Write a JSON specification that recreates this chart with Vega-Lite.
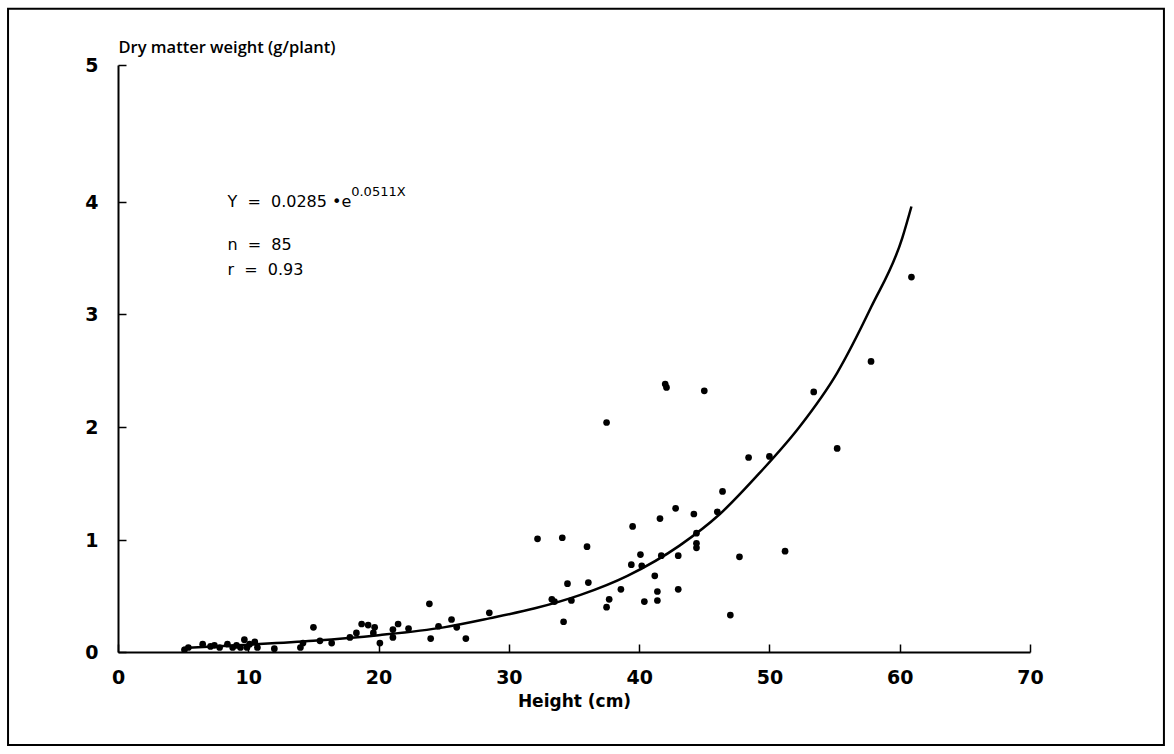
{
  "$schema": "https://vega.github.io/schema/vega-lite/v6.json",
  "width": 912,
  "height": 587,
  "autosize": {"type": "none"},
  "padding": {"left": 118, "top": 65, "right": 144, "bottom": 102},
  "background": "white",
  "config": {
    "view": {"stroke": null},
    "font": "DejaVu Sans"
  },
  "datasets": {
    "pts": [
      {"x": 5.1, "y": 0.02}, {"x": 5.4, "y": 0.04}, {"x": 6.5, "y": 0.07}, {"x": 7.1, "y": 0.05},
      {"x": 7.4, "y": 0.06}, {"x": 7.8, "y": 0.04}, {"x": 8.4, "y": 0.07}, {"x": 8.8, "y": 0.04},
      {"x": 9.1, "y": 0.06}, {"x": 9.4, "y": 0.04}, {"x": 9.7, "y": 0.11}, {"x": 9.9, "y": 0.04},
      {"x": 10.1, "y": 0.07}, {"x": 10.5, "y": 0.09}, {"x": 10.7, "y": 0.04}, {"x": 12.0, "y": 0.03},
      {"x": 14.0, "y": 0.04}, {"x": 14.2, "y": 0.08}, {"x": 15.0, "y": 0.22}, {"x": 15.5, "y": 0.10},
      {"x": 16.4, "y": 0.08}, {"x": 17.8, "y": 0.13}, {"x": 18.3, "y": 0.17}, {"x": 18.7, "y": 0.25},
      {"x": 19.2, "y": 0.24}, {"x": 19.6, "y": 0.17}, {"x": 19.7, "y": 0.22}, {"x": 20.1, "y": 0.08},
      {"x": 21.1, "y": 0.13}, {"x": 21.1, "y": 0.20}, {"x": 21.5, "y": 0.25}, {"x": 22.3, "y": 0.21},
      {"x": 23.9, "y": 0.43}, {"x": 24.0, "y": 0.12}, {"x": 24.6, "y": 0.23}, {"x": 25.6, "y": 0.29},
      {"x": 26.0, "y": 0.22}, {"x": 26.7, "y": 0.12}, {"x": 28.5, "y": 0.35},
      {"x": 32.2, "y": 1.01}, {"x": 34.1, "y": 1.02}, {"x": 36.0, "y": 0.94}, {"x": 33.3, "y": 0.47},
      {"x": 33.5, "y": 0.45}, {"x": 34.5, "y": 0.61}, {"x": 34.8, "y": 0.46}, {"x": 34.2, "y": 0.27},
      {"x": 36.1, "y": 0.62}, {"x": 37.5, "y": 0.40}, {"x": 37.7, "y": 0.47}, {"x": 38.6, "y": 0.56},
      {"x": 37.5, "y": 2.04}, {"x": 39.4, "y": 0.78}, {"x": 39.5, "y": 1.12}, {"x": 40.1, "y": 0.87},
      {"x": 40.2, "y": 0.77}, {"x": 40.4, "y": 0.45}, {"x": 41.2, "y": 0.68}, {"x": 41.4, "y": 0.54},
      {"x": 41.4, "y": 0.46}, {"x": 41.6, "y": 1.19}, {"x": 41.7, "y": 0.86}, {"x": 42.8, "y": 1.28},
      {"x": 43.0, "y": 0.86}, {"x": 43.0, "y": 0.56}, {"x": 44.2, "y": 1.23}, {"x": 44.4, "y": 1.06},
      {"x": 44.4, "y": 0.97}, {"x": 44.4, "y": 0.93}, {"x": 46.0, "y": 1.25}, {"x": 46.4, "y": 1.43},
      {"x": 47.0, "y": 0.33}, {"x": 47.7, "y": 0.85}, {"x": 48.4, "y": 1.73}, {"x": 50.0, "y": 1.74},
      {"x": 51.2, "y": 0.90}, {"x": 42.0, "y": 2.38}, {"x": 42.1, "y": 2.35}, {"x": 45.0, "y": 2.32},
      {"x": 53.4, "y": 2.31}, {"x": 57.8, "y": 2.58}, {"x": 60.9, "y": 3.33}, {"x": 55.2, "y": 1.81}
    ],
    "curve": [
      {"x": 5.0, "y": 0.035}, {"x": 10.0, "y": 0.065}, {"x": 15.0, "y": 0.10}, {"x": 20.0, "y": 0.15},
      {"x": 25.0, "y": 0.22}, {"x": 28.5, "y": 0.30}, {"x": 32.0, "y": 0.39}, {"x": 35.5, "y": 0.51},
      {"x": 39.1, "y": 0.68}, {"x": 43.1, "y": 0.95}, {"x": 46.2, "y": 1.23}, {"x": 49.3, "y": 1.60},
      {"x": 52.3, "y": 2.0}, {"x": 55.2, "y": 2.48}, {"x": 57.8, "y": 3.06}, {"x": 60.2, "y": 3.68},
      {"x": 60.9, "y": 3.96}
    ],
    "notes": [
      {"x": 8.4, "y": 4.0, "t": "Y\u00a0\u00a0=\u00a0\u00a00.0285\u00a0•e"},
      {"x": 8.4, "y": 3.62, "t": "n\u00a0\u00a0=\u00a0\u00a085"},
      {"x": 8.4, "y": 3.39, "t": "r\u00a0\u00a0=\u00a0\u00a00.93"}
    ],
    "sup": [
      {"x": 17.9, "y": 4.07, "t": "0.0511X"}
    ],
    "frame": [
      {"x": -8.44, "x2": 80.28, "y": 5.41, "y2": -0.83}
    ]
  },
  "encoding": {
    "x": {
      "field": "x", "type": "quantitative",
      "scale": {"domain": [0, 70], "nice": false, "zero": false},
      "axis": {
        "title": "Height (cm)", "values": [0, 10, 20, 30, 40, 50, 60, 70],
        "grid": false, "domainColor": "black", "domainWidth": 2,
        "tickColor": "black", "tickWidth": 1.5, "tickSize": -8,
        "labelFlush": false, "labelOverlap": false,
        "labelPadding": 24, "labelFontSize": 19, "labelFontWeight": "bold", "labelColor": "black",
        "labelFont": "DejaVu Sans",
        "titleFontSize": 17, "titleFontWeight": "bold", "titleColor": "black", "titlePadding": 6,
        "titleFont": "DejaVu Sans"
      }
    },
    "y": {
      "field": "y", "type": "quantitative",
      "scale": {"domain": [0, 1, 2, 3, 4, 5], "range": [587, 475, 362, 249, 137, 0], "nice": false, "zero": false},
      "axis": {
        "title": "Dry matter weight (g/plant)", "values": [0, 1, 2, 3, 4, 5],
        "grid": false, "domainColor": "black", "domainWidth": 2,
        "tickColor": "black", "tickWidth": 1.5, "tickSize": -8,
        "labelFlush": false, "labelOverlap": false,
        "labelPadding": 28, "labelFontSize": 19, "labelFontWeight": "bold", "labelColor": "black",
        "labelFont": "DejaVu Sans",
        "titleAngle": 0, "titleAlign": "left", "titleBaseline": "bottom",
        "titleX": 0, "titleY": -10,
        "titleFontSize": 16.5, "titleFontWeight": 600, "titleColor": "black", "titleFont": "Open Sans"
      }
    }
  },
  "layer": [
    {
      "data": {"name": "frame"},
      "mark": {"type": "rect", "fill": "transparent", "stroke": "black", "strokeWidth": 2, "clip": false},
      "encoding": {
        "x": {"field": "x", "type": "quantitative"},
        "x2": {"field": "x2"},
        "y": {"field": "y", "type": "quantitative"},
        "y2": {"field": "y2"}
      }
    },
    {
      "data": {"name": "curve"},
      "mark": {"type": "line", "color": "black", "strokeWidth": 2.5, "interpolate": "monotone"}
    },
    {
      "data": {"name": "pts"},
      "mark": {"type": "point", "filled": true, "color": "black", "size": 45, "opacity": 1}
    },
    {
      "data": {"name": "notes"},
      "mark": {"type": "text", "align": "left", "baseline": "middle", "fontSize": 16, "color": "black", "font": "DejaVu Sans"},
      "encoding": {"text": {"field": "t"}}
    },
    {
      "data": {"name": "sup"},
      "mark": {"type": "text", "align": "left", "baseline": "middle", "fontSize": 13, "color": "black", "font": "DejaVu Sans"},
      "encoding": {"text": {"field": "t"}}
    }
  ]
}
